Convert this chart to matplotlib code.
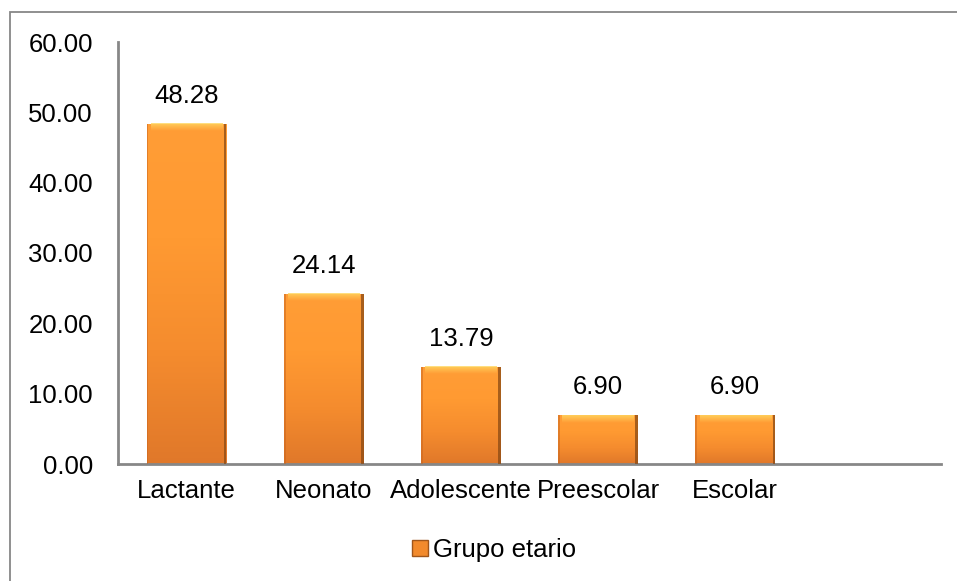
"""Bar chart of cases by age group (Grupo etario)."""
import numpy as np
import matplotlib

matplotlib.use("Agg")
import matplotlib.pyplot as plt
from matplotlib.colors import LinearSegmentedColormap
from matplotlib.patches import Patch, Rectangle

CATEGORIES = ["Lactante", "Neonato", "Adolescente", "Preescolar", "Escolar", ""]
VALUES = [48.28, 24.14, 13.79, 6.90, 6.90, None]
SERIES_NAME = "Grupo etario"
Y_TICKS = [0, 10, 20, 30, 40, 50, 60]

AXIS_GRAY = "#878787"
BAR_CMAP = LinearSegmentedColormap.from_list(
    "bar_orange", ["#E0782A", "#F58C2E", "#FF9A32", "#FF9D36"]
)
FONT_SIZE = 18.5

plt.rcParams["font.family"] = ["Liberation Sans", "DejaVu Sans"]
plt.rcParams["font.size"] = FONT_SIZE

fig = plt.figure(figsize=(9.57, 5.81), dpi=100)
fig.patches.append(
    Rectangle((10 / 957, -0.05), 1.1, (581 - 12) / 581 + 0.05,
              transform=fig.transFigure, fill=False,
              edgecolor=AXIS_GRAY, linewidth=1.3)
)

ax = fig.add_axes([118 / 957, 117 / 581, 823 / 957, 422 / 581])

x = np.arange(len(CATEGORIES))
width = 0.58
grad = np.linspace(0, 1, 256).reshape(-1, 1)

# highlight strip for the bevelled top, fading downwards
hl = np.zeros((32, 1, 4))
hl[..., 0], hl[..., 1], hl[..., 2] = 1.0, 0.84, 0.38
hl[:, 0, 3] = np.linspace(0.0, 0.85, 32)

for xi, val in zip(x, VALUES):
    if val is None:
        continue
    x0, x1 = xi - width / 2, xi + width / 2
    ax.imshow(grad, extent=[x0, x1, 0, val], origin="lower",
              cmap=BAR_CMAP, aspect="auto", zorder=2)
    ax.imshow(hl, extent=[x0 + 0.03, x1 - 0.03, val - 1.0, val],
              origin="lower", aspect="auto", zorder=3)
    ax.add_patch(Rectangle((x1 - 0.018, 0), 0.018, val,
                           facecolor="#8A4A14", alpha=0.75, linewidth=0,
                           zorder=3))
    ax.add_patch(Rectangle((x0, 0), 0.012, val,
                           facecolor="#C8641E", alpha=0.5, linewidth=0,
                           zorder=3))
    ax.text(xi, val + 2.3, f"{val:.2f}", ha="center", va="bottom",
            fontsize=FONT_SIZE, color="black")

ax.set_xlim(-0.5, len(CATEGORIES) - 0.5)
ax.set_ylim(0, 60)
ax.set_yticks(Y_TICKS)
ax.set_yticklabels([f"{t:.2f}" for t in Y_TICKS])
ax.set_xticks(x)
ax.set_xticklabels(CATEGORIES)
ax.tick_params(axis="x", length=0, pad=11)
ax.tick_params(axis="y", length=0, pad=18)

for side in ["top", "right"]:
    ax.spines[side].set_visible(False)
for side in ["left", "bottom"]:
    ax.spines[side].set_color(AXIS_GRAY)
    ax.spines[side].set_linewidth(2)

handle = Patch(facecolor="#F28A2C", edgecolor="#A0561A", linewidth=1)
fig.legend([handle], [SERIES_NAME], loc="center", frameon=False,
           bbox_to_anchor=(494 / 957, 1 - 550 / 581),
           handlelength=0.6, handleheight=0.6, handletextpad=0.2,
           fontsize=FONT_SIZE)

fig.savefig("out.png", dpi=100)
